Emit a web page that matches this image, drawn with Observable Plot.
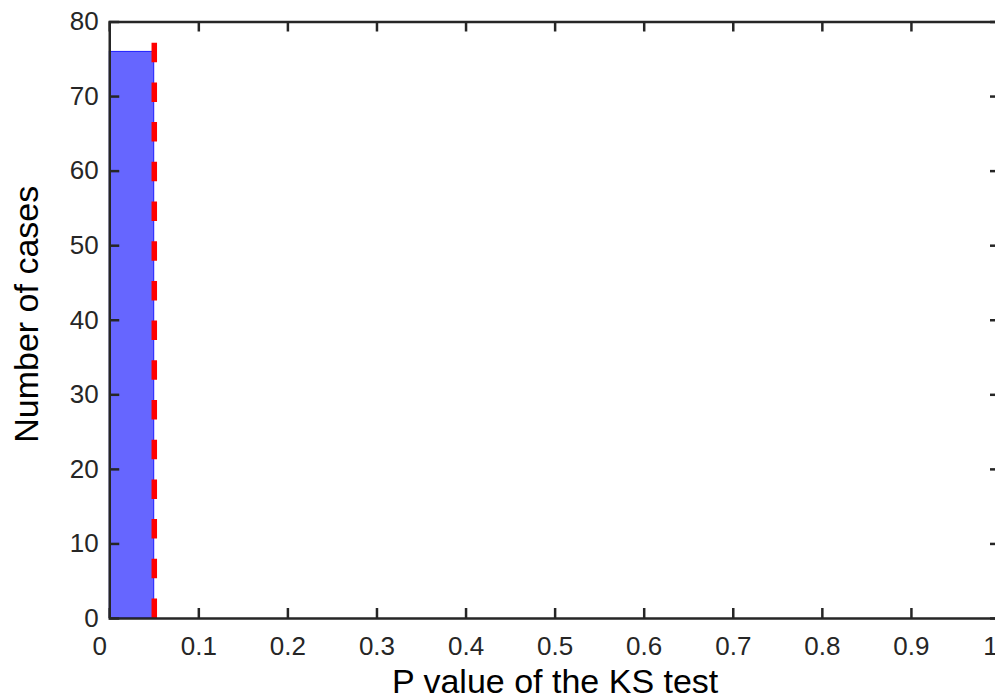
<!DOCTYPE html>
<html><head><meta charset="utf-8">
<script src="https://cdn.jsdelivr.net/npm/d3@7"></script>
<script src="https://cdn.jsdelivr.net/npm/@observablehq/plot@0.6"></script>
<style>html,body{margin:0;padding:0;background:#fff;overflow:hidden;} #chart{width:995px;height:700px;overflow:hidden;}</style>
</head><body><div id="chart"></div>
<script>
// ---- data ----
const binStart = [0];
const binEnd = [0.05];
const binCounts = [76];
const thresholds = [0.05];
const xDomain = [0, 1];
const yDomain = [0, 80];
const xTicks = [0, 0.1, 0.2, 0.3, 0.4, 0.5, 0.6, 0.7, 0.8, 0.9, 1];
const yTicks = [0, 10, 20, 30, 40, 50, 60, 70, 80];
const xLabel = "P value of the KS test";
const yLabel = "Number of cases";

// ---- layout ----
const W = 995, H = 700, mL = 109.25, mR = -5, mT = 21.5, mB = 82;
const frameW = W - mL - mR, frameH = H - mT - mB;
const tickLen = 10;
const axisColor = "#262626";
const bins = binStart.map((s, i) => ({x1: s, x2: binEnd[i], count: binCounts[i]}));
const fmt = d => String(+d.toFixed(1));
const endTicks = xTicks.filter(d => d === xDomain[0] || d === xDomain[1]);
const midTicks = xTicks.filter(d => d > xDomain[0] && d < xDomain[1]);

const chart = Plot.plot({
  width: W, height: H,
  marginLeft: mL, marginRight: mR, marginTop: mT, marginBottom: mB,
  style: {fontFamily: "'Liberation Sans', Arial, sans-serif", fontSize: "26px", background: "white", color: axisColor, overflow: "visible"},
  x: {domain: xDomain},
  y: {domain: yDomain},
  marks: [
    Plot.rectY(bins, {x1: "x1", x2: "x2", y: "count", fill: "#6666ff", stroke: "#0000ff", strokeWidth: 0.8}),
    Plot.ruleX(thresholds, {x: d => d, y1: yDomain[0], y2: yDomain[1], stroke: "#ff0000", strokeWidth: 5.5, strokeDasharray: "19.5,20.2"}),
    Plot.tickX(xTicks, {x: d => d, insetTop: frameH - tickLen, stroke: axisColor, strokeWidth: 2.5}),
    Plot.tickX(xTicks, {x: d => d, insetBottom: frameH - tickLen, stroke: axisColor, strokeWidth: 2.5}),
    Plot.tickY(yTicks, {y: d => d, insetRight: frameW - tickLen, stroke: axisColor, strokeWidth: 2.5}),
    Plot.tickY(yTicks, {y: d => d, insetLeft: frameW - tickLen, stroke: axisColor, strokeWidth: 2.5}),
    Plot.frame({stroke: axisColor, strokeWidth: 2.5}),
    Plot.axisY({ticks: yTicks, tickSize: 0, tickPadding: 11, fontSize: 26, label: null}),
    Plot.axisX({ticks: midTicks, tickFormat: fmt, tickSize: 0, tickPadding: 18, fontSize: 26, label: null}),
    Plot.axisX({ticks: endTicks, tickFormat: fmt, tickSize: 0, tickPadding: 18, fontSize: 26, label: null, dx: -10}),
    Plot.text([xLabel], {text: d => d, frameAnchor: "bottom", lineAnchor: "middle", textAnchor: "middle", dy: 64, fontSize: 34, fill: "#000"}),
    Plot.text([yLabel], {text: d => d, frameAnchor: "left", lineAnchor: "middle", textAnchor: "middle", rotate: -90, dx: -83, dy: -6, fontSize: 34, fill: "#000"})
  ]
});
document.getElementById("chart").appendChild(chart);
</script>
</body></html>
